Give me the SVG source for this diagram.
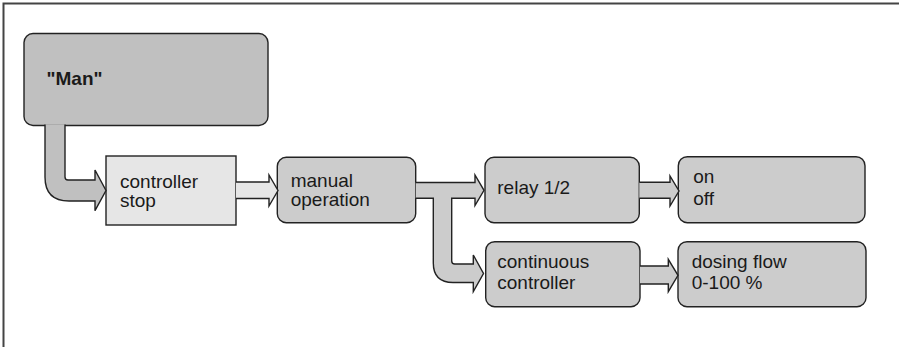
<svg xmlns="http://www.w3.org/2000/svg" width="899" height="347" viewBox="0 0 899 347">
<style>
.box{fill:#cccccc;stroke:#222;stroke-width:1.4}
.man{fill:#c0c0c0;stroke:#222;stroke-width:1.4}
.light{fill:#e6e6e6;stroke:#222;stroke-width:1.4}
.arr{fill:#cccccc;stroke:#222;stroke-width:1.4;stroke-linejoin:miter}
.arrm{fill:#c0c0c0;stroke:#222;stroke-width:1.4}
.arrl{fill:#e6e6e6;stroke:#222;stroke-width:1.4}
text{font-family:"Liberation Sans",Arial,sans-serif;font-size:19px;fill:#1a1a1a}
.b{font-weight:bold}
</style>
<rect x="0" y="0" width="899" height="347" fill="#fff"/>
<path d="M3.5,347 V3.5 H899" fill="none" stroke="#444" stroke-width="2"/>
<g id="nodes">
<g id="man"><rect class="man" x="24" y="33.5" width="244" height="92" rx="9"/><text class="b" x="46.5" y="85">"Man"</text></g>
<g id="stop"><rect class="light" x="106" y="156" width="130" height="69"/><text x="120" y="188">controller</text><text x="120" y="207">stop</text></g>
<g id="manual"><rect class="box" x="277.3" y="157.3" width="138.4" height="65.4" rx="9"/><text x="290.7" y="187">manual</text><text x="290.7" y="206">operation</text></g>
<g id="relay"><rect class="box" x="485" y="157.3" width="154.3" height="65.4" rx="9"/><text x="497.3" y="194">relay 1/2</text></g>
<g id="onoff"><rect class="box" x="678.3" y="156.7" width="186.7" height="66" rx="9"/><text x="693.3" y="183.3">on</text><text x="693.3" y="205">off</text></g>
<g id="continuous"><rect class="box" x="485.7" y="241.7" width="154.3" height="65" rx="9"/><text x="497.3" y="268.3">continuous</text><text x="497.3" y="288.5">controller</text></g>
<g id="dosing"><rect class="box" x="678" y="241.7" width="188" height="65" rx="9"/><text x="691.7" y="268.3">dosing flow</text><text x="691.7" y="289">0-100 %</text></g>
</g>
<g id="connectors">
<path class="arrm" d="M45,124.6 V177 Q45,201 69,201 H95 V210.7 L106,190.5 L95,170 V180 H68 Q65,180 65,177 V124.6"/>
<path class="arrl" d="M236,182 H269 V175 L278,190.5 L269,206 V198.5 H236"/>
<path class="arr" d="M415.7,182.5 H475 V175 L484,190.3 L475,205.5 V198.3 H451.7 V261 Q451.7,264 454.7,264 H473.3 V255 L483.5,273.5 L473.3,291.5 V282.5 H453 Q433.3,282.5 433.3,263 V198.3 H415.7"/>
<path class="arr" d="M639.3,182.3 H670 V176 L679,191 L670,206 V198.3 H639.3"/>
<path class="arr" d="M640,266 H668.3 V259.3 L678,275.3 L668.3,291.7 V284 H640"/>
</g>
</svg>
